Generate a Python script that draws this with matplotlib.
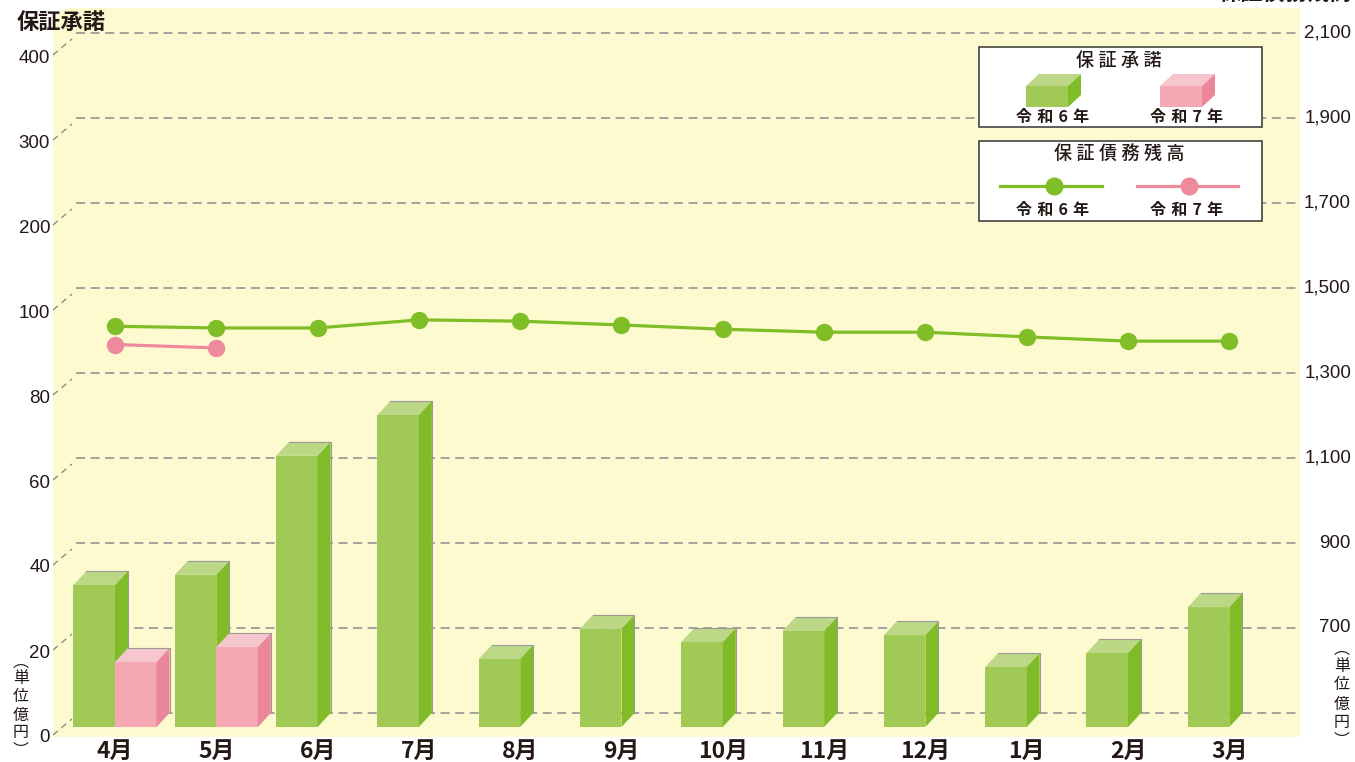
import matplotlib
matplotlib.use('Agg')
import matplotlib.pyplot as plt
import numpy as np
from matplotlib.patches import Polygon, Rectangle, PathPatch
from matplotlib.path import Path

# ---------------- data ----------------
months = ['4月', '5月', '6月', '7月', '8月', '9月', '10月', '11月', '12月', '1月', '2月', '3月']
guarantee_r6 = [33.4, 35.8, 63.8, 73.4, 16.0, 23.1, 20.0, 22.6, 21.6, 14.1, 17.4, 28.2]
guarantee_r7 = [15.3, 18.8]
balance_r6 = [1410, 1406, 1406, 1425, 1422, 1413, 1403, 1396, 1396, 1385, 1375, 1375]
balance_r7 = [1367, 1359]
left_ticks = [0, 20, 40, 60, 80, 100, 200, 300, 400]
right_ticks = [700, 900, 1100, 1300, 1500, 1700, 1900, 2100]
left_title = '保証承諾'
right_title = '保証債務残高'
legend_bar_title = '保証承諾'
legend_line_title = '保証債務残高'
series_names = ['令和6年', '令和7年']
unit_chars = ['︵', '単', '位', '億', '円', '︶']

# ---------------- style ----------------
W, H, DPI = 1355, 762, 100
CJK = ['Noto Sans CJK JP', 'DejaVu Sans']
NUM = ['Liberation Sans', 'DejaVu Sans']
TXT = '#231815'
BG = '#FEFAD0'
GRID = '#8c8c8c'
GREEN = dict(front='#A0C956', top='#BCD886', side='#80BC27', line='#7FBE26')
PINK = dict(front='#F4A8B4', top='#F6C6CE', side='#EC8799', line='#EE8A9C')
plt.rcParams['lines.scale_dashes'] = False

# plot area (pixels, top-origin)
PL, PR, PT, PB = 53, 1300, 8, 737
STEP = 85.0          # pixels between gridlines
G0 = 713             # y pixel of the back-plane baseline
GTOP = 33            # y pixel of the top gridline
XC0, XSTEP = 115, 101.3

fig = plt.figure(figsize=(W / DPI, H / DPI), dpi=DPI)

# background layer
bg = fig.add_axes([0, 0, 1, 1], zorder=0)
bg.set_xlim(0, W); bg.set_ylim(H, 0); bg.axis('off')
r = 20
verts = [(PL, PB), (PL, PT + r), (PL, PT), (PL + r, PT), (PR, PT), (PR, PB), (PL, PB)]
codes = [Path.MOVETO, Path.LINETO, Path.CURVE3, Path.CURVE3, Path.LINETO, Path.LINETO, Path.CLOSEPOLY]
bg.add_patch(PathPatch(Path(verts, codes), facecolor=BG, edgecolor='none'))

# main axes
ax = fig.add_axes([PL / W, (H - PB) / H, (PR - PL) / W, (PB - PT) / H], zorder=1)
ax.patch.set_visible(False)


def fwd(v):
    v = np.asarray(v, dtype=float)
    return np.where(v <= 100, v / 20.0, 5 + (v - 100) / 100.0)


def inv(u):
    u = np.asarray(u, dtype=float)
    return np.where(u <= 5, u * 20.0, 100 + (u - 5) * 100.0)


ax.set_yscale('function', functions=(fwd, inv))
below = (PB - G0) / STEP
above = (GTOP - PT) / STEP
ax.set_ylim(float(inv(-below)), float(inv(8 + above)))
ax.set_xlim(-(XC0 - PL) / XSTEP, 11 + (PR - (XC0 + 11 * XSTEP)) / XSTEP)

ax2 = ax.twinx()
ax2.set_zorder(2)
ax2.patch.set_visible(False)
ax2.set_ylim(500 - below * 200, 2100 + above * 200)

for a in (ax, ax2):
    for s in a.spines.values():
        s.set_visible(False)
    a.tick_params(left=False, right=False, labelleft=False, labelright=False)

ax.set_xticks(range(len(months)))
ax.set_xticklabels(months, fontsize=16.5, fontweight='bold', family=CJK, color=TXT)
ax.tick_params(axis='x', length=0, pad=2)

# overlay layer in pixel coordinates for labels / legend
ov = fig.add_axes([0, 0, 1, 1], zorder=5)
ov.set_xlim(0, W); ov.set_ylim(H, 0); ov.axis('off')
ov.patch.set_visible(False)


def ypix(axis, v):
    return H - axis.transData.transform((0, v))[1]


# gridlines + left labels with diagonal connectors
gx0 = (76 - PL) / (PR - PL)
gx1 = (1297 - PL) / (PR - PL)
for t in left_ticks:
    ax.axhline(t, xmin=gx0, xmax=gx1, color=GRID, lw=1.1, ls=(0, (6.5, 4.0)), zorder=1)
    g = ypix(ax, t)
    ov.plot([53, 72], [g + 22, g + 6], color=GRID, lw=1.0, ls=(0, (4.5, 3.5)))
    ov.text(50, g + 25, f'{t}', ha='right', va='center', fontsize=13.5, family=NUM, color=TXT)

for t in right_ticks:
    g = ypix(ax2, t)
    ov.text(1351, g, f'{t:,}', ha='right', va='center', fontsize=13.5, family=NUM, color=TXT)

# 3D bars
px_per_x = ax.transData.transform((1, 0))[0] - ax.transData.transform((0, 0))[0]
px_per_v = (ax.transData.transform((0, 20))[1] - ax.transData.transform((0, 0))[1]) / 20.0
DX = 13 / px_per_x
DY = 14 / px_per_v
BW = 0.41


def bar3d(x0, x1, v, c):
    ax.add_patch(Rectangle((x0, -DY), x1 - x0, v, facecolor=c['front'], edgecolor='none', zorder=2))
    ax.add_patch(Polygon([(x0, v - DY), (x1, v - DY), (x1 + DX, v), (x0 + DX, v)],
                         closed=True, facecolor=c['top'], edgecolor='none', zorder=2))
    ax.add_patch(Polygon([(x1, -DY), (x1 + DX, 0), (x1 + DX, v), (x1, v - DY)],
                         closed=True, facecolor=c['side'], edgecolor='none', zorder=2))
    ax.plot([x0 + DX, x1 + DX, x1 + DX], [v, v, 0], color='#9a9a9a', lw=0.8, zorder=2)


for i in range(len(months)):
    bar3d(i - BW, i, guarantee_r6[i], GREEN)
    if i < len(guarantee_r7):
        bar3d(i, i + BW, guarantee_r7[i], PINK)

# lines
ax2.plot(range(len(balance_r6)), balance_r6, color=GREEN['line'], lw=2.3,
         marker='o', ms=11.5, zorder=3)
ax2.plot(range(len(balance_r7)), balance_r7, color=PINK['line'], lw=2.3,
         marker='o', ms=11.5, zorder=3)

# titles
ov.text(17, 22, left_title, ha='left', va='center', fontsize=16, fontweight='bold',
        family=CJK, color=TXT)
ov.text(1352, -7, right_title, ha='right', va='center', fontsize=16, fontweight='bold',
        family=CJK, color=TXT)

# vertical unit labels
for xc, ys in ((21, [662, 679, 697, 715, 733, 750]), (1342, [649, 667, 685, 704, 722, 740])):
    for ch, yy in zip(unit_chars, ys):
        ov.text(xc, yy, ch, ha='center', va='center', fontsize=11.5, family=CJK, color=TXT)

# legend boxes
for (y0, y1) in ((47, 127), (141, 221)):
    ov.add_patch(Rectangle((979, y0), 1262 - 979, y1 - y0, facecolor='white',
                           edgecolor='#333333', lw=1.1))
sp = '\u2005'
ov.text(1119, 61, sp.join(legend_bar_title), ha='center', va='center', fontsize=13,
        family=CJK, color=TXT, fontweight='medium')
ov.text(1119, 155, sp.join(legend_line_title), ha='center', va='center', fontsize=13,
        family=CJK, color=TXT, fontweight='medium')


def cube(x0, x1, yt, yb, c, dx=13, dy=12):
    ov.add_patch(Rectangle((x0, yt), x1 - x0, yb - yt, facecolor=c['front'], edgecolor='none'))
    ov.add_patch(Polygon([(x0, yt), (x1, yt), (x1 + dx, yt - dy), (x0 + dx, yt - dy)],
                         facecolor=c['top'], edgecolor='none'))
    ov.add_patch(Polygon([(x1, yt), (x1, yb), (x1 + dx, yb - dy), (x1 + dx, yt - dy)],
                         facecolor=c['side'], edgecolor='none'))


cube(1026, 1068, 86, 107, GREEN)
cube(1160, 1202, 86, 107, PINK)
ov.plot([1000, 1102], [186, 186], color=GREEN['line'], lw=2.3)
ov.plot([1054], [186], 'o', color=GREEN['line'], ms=12)
ov.plot([1137, 1238], [186, 186], color=PINK['line'], lw=2.3)
ov.plot([1189], [186], 'o', color=PINK['line'], ms=12)
sp2 = '\u2004'
for yy in (117, 210):
    ov.text(1053, yy, sp2.join(series_names[0]), ha='center', va='center', fontsize=11.5,
            family=CJK, color=TXT, fontweight='bold')
    ov.text(1187, yy, sp2.join(series_names[1]), ha='center', va='center', fontsize=11.5,
            family=CJK, color=TXT, fontweight='bold')

fig.savefig('out.png', dpi=DPI)
